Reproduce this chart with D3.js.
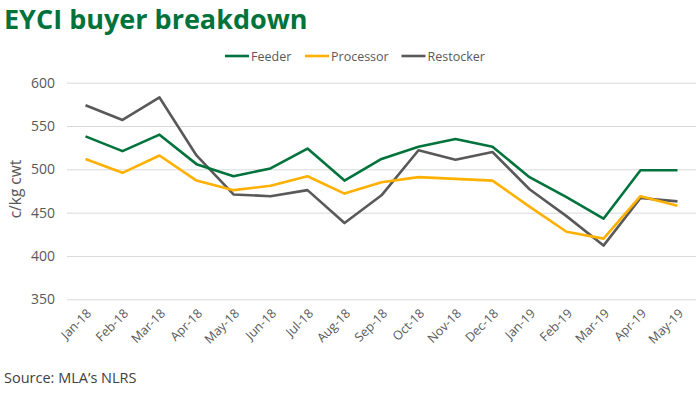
<!DOCTYPE html>
<html><head><meta charset="utf-8">
<script src="https://cdn.jsdelivr.net/npm/d3@7"></script>
<style>body{margin:0;background:#fff;} svg{display:block;}</style>
</head><body>
<svg id="chart" width="700" height="393"></svg>
<script>
const months = ["Jan-18","Feb-18","Mar-18","Apr-18","May-18","Jun-18","Jul-18","Aug-18","Sep-18","Oct-18","Nov-18","Dec-18","Jan-19","Feb-19","Mar-19","Apr-19","May-19"];
const feeder =     [538,521,540,506,492,501,524,487,512,526,535,526,491,468,443,499,499];
const processor =  [512,496,516,487,476,481,492,472,485,491,489,487,457,428,420,469,458];
const restocker =  [574,557,583,516,471,469,476,438,470,522,511,520,477,446,412,467,463];
const seriesNames = ["Feeder","Processor","Restocker"];
const seriesColors = ["#00733C","#FFB000","#595959"];
const yTicks = [350,400,450,500,550,600];

const svg = d3.select("#chart");
const font = "'Open Sans', sans-serif";
const plot = {left:67, right:696, top:82.7, bottom:299.3};

const x = d3.scalePoint().domain(months).range([plot.left, plot.right]).padding(0.5);
const y = d3.scaleLinear().domain([350,600]).range([plot.bottom, plot.top]);

// title
svg.append("text").attr("x",4).attr("y",29).text("EYCI buyer breakdown")
  .attr("font-family",font).attr("font-weight",700).attr("font-size",27).attr("fill","#00733C");

// grid
const yAxis = d3.axisLeft(y).tickValues(yTicks).tickSize(-(plot.right-plot.left)).tickPadding(12);
const gy = svg.append("g").attr("transform",`translate(${plot.left},0)`).call(yAxis);
gy.select(".domain").remove();
gy.selectAll(".tick line").attr("stroke","#D9D9D9").attr("stroke-width",1);
gy.selectAll(".tick text").attr("font-family",font).attr("font-size",14).attr("fill","#595959");

// x axis
const xAxis = d3.axisBottom(x).tickSize(0).tickPadding(0);
const gx = svg.append("g").attr("transform",`translate(0,${plot.bottom})`).call(xAxis);
gx.select(".domain").remove();
gx.selectAll(".tick text").attr("font-family",font).attr("font-size",12.5).attr("fill","#595959")
  .attr("text-anchor","end").attr("dy",0).attr("dx",0)
  .attr("transform","translate(6,15) rotate(-45)");

// y axis title
svg.append("text").attr("transform","translate(21,189) rotate(-90)").attr("text-anchor","middle")
  .text("c/kg cwt").attr("font-family",font).attr("font-size",15.5).attr("fill","#595959");

// lines
const data = [feeder, processor, restocker];
const line = d3.line().x((d,i)=>x(months[i])).y(d=>y(d));
[2,1,0].forEach(k=>{
  svg.append("path").datum(data[k]).attr("d",line).attr("fill","none")
    .attr("stroke",seriesColors[k]).attr("stroke-width",2.6).attr("stroke-linejoin","round");
});

// legend
const legendX = [225,305,401.5];
seriesNames.forEach((n,k)=>{
  const g = svg.append("g").attr("transform",`translate(${legendX[k]},56)`);
  g.append("line").attr("x1",0).attr("x2",24).attr("y1",0).attr("y2",0).attr("stroke",seriesColors[k]).attr("stroke-width",2.6);
  g.append("text").attr("x",26).attr("y",4.5).text(n).attr("font-family",font).attr("font-size",12.5).attr("fill","#595959");
});

// source
svg.append("text").attr("x",4).attr("y",383).text("Source: MLA’s NLRS")
  .attr("font-family",font).attr("font-size",14.5).attr("fill","#404040");
</script>
</body></html>
